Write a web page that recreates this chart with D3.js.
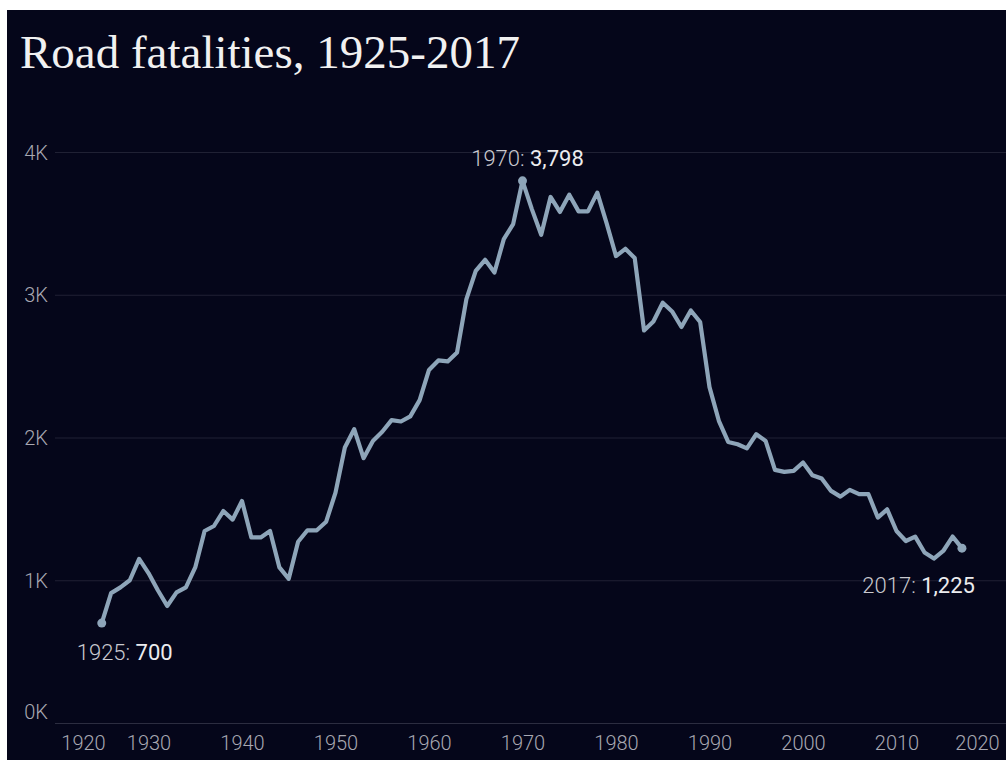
<!DOCTYPE html>
<html><head><meta charset="utf-8">
<script src="https://cdn.jsdelivr.net/npm/d3@7"></script>
<style>
html,body{margin:0;padding:0;background:#ffffff;}
svg{display:block;}
</style></head>
<body>
<svg id="chart" width="1006" height="760"></svg>
<script>
const years = [1925,1926,1927,1928,1929,1930,1931,1932,1933,1934,1935,1936,1937,1938,1939,
1940,1941,1942,1943,1944,1945,1946,1947,1948,1949,1950,1951,1952,1953,1954,1955,1956,1957,1958,1959,
1960,1961,1962,1963,1964,1965,1966,1967,1968,1969,1970,1971,1972,1973,1974,1975,1976,1977,1978,1979,
1980,1981,1982,1983,1984,1985,1986,1987,1988,1989,1990,1991,1992,1993,1994,1995,1996,1997,1998,1999,
2000,2001,2002,2003,2004,2005,2006,2007,2008,2009,2010,2011,2012,2013,2014,2015,2016,2017];
const fatalities = [700,910,950,1000,1150,1050,930,820,915,950,1090,1345,1380,1485,1425,
1555,1300,1300,1345,1090,1010,1270,1350,1350,1410,1614,1930,2058,1855,1976,2040,2122,2112,2148,2262,
2473,2540,2533,2596,2969,3167,3245,3156,3390,3495,3798,3600,3420,3685,3580,3701,3584,3584,3715,3500,
3271,3322,3257,2750,2813,2944,2883,2774,2890,2809,2353,2117,1969,1953,1924,2023,1976,1773,1759,1766,
1825,1736,1713,1626,1586,1633,1603,1603,1439,1497,1345,1275,1306,1194,1152,1205,1306,1225];
const yTickValues = [0,1000,2000,3000,4000];
const yTickLabels = ["0K","1K","2K","3K","4K"];
const xTickValues = [1920,1930,1940,1950,1960,1970,1980,1990,2000,2010,2020];
const annotatedYears = [1925,1970,2017];
const titleText = "Road fatalities, 1925-2017";

const data = years.map((yr,i)=>({year:yr, value:fatalities[i]}));

const svg = d3.select("#chart");
const W = 1006, H = 760;
const plotLeft = 55, plotRight = 990, gridRight = 1006;
const x = d3.scaleLinear().domain([1920,2020]).range([plotLeft, plotRight]);
const y = d3.scaleLinear().domain([0,4000]).range([723,152]);
const sans = "Roboto, 'Open Sans', sans-serif";

svg.append("rect").attr("x",7).attr("y",10).attr("width",W-7).attr("height",H-10).attr("fill","#05061a");

svg.append("text").attr("x",20).attr("y",68)
  .attr("font-family","'Liberation Serif', 'DejaVu Serif', serif")
  .attr("font-size",47).attr("fill","#f1f1f1").text(titleText);

// y axis with gridlines
const fmtY = d => yTickLabels[yTickValues.indexOf(d)];
const yAxis = svg.append("g").attr("transform",`translate(${plotLeft},0)`)
  .call(d3.axisLeft(y).tickValues(yTickValues).tickFormat(fmtY).tickSize(-(gridRight-plotLeft)).tickPadding(7));
yAxis.select(".domain").remove();
yAxis.selectAll(".tick line").attr("stroke", d => d===0 ? "#2c2d40" : "#202134").attr("stroke-width",1);
yAxis.selectAll(".tick text")
  .attr("font-family",sans).attr("font-size",20).attr("font-weight",300)
  .attr("fill","#a8a8b2")
  .attr("dy", d => d===0 ? "-0.25em" : "0.35em");

// x axis
const xAxis = svg.append("g").attr("transform","translate(0,723)")
  .call(d3.axisBottom(x).tickValues(xTickValues).tickFormat(d3.format("d")).tickSize(0).tickPadding(13));
xAxis.select(".domain").remove();
xAxis.selectAll(".tick text")
  .attr("font-family",sans).attr("font-size",20).attr("font-weight",300)
  .attr("fill","#a8a8b2");
// keep edge labels inside the frame
xAxis.selectAll(".tick text").attr("dx", d => d===1920 ? 28 : (d===2020 ? -13 : 0));

// line
const line = d3.line().x(d=>x(d.year)).y(d=>y(d.value));
svg.append("path").datum(data).attr("d",line)
  .attr("fill","none").attr("stroke","#8ea5b9").attr("stroke-width",4.2)
  .attr("stroke-linejoin","round").attr("stroke-linecap","round");

const ann = data.filter(d=>annotatedYears.includes(d.year));
svg.selectAll("circle.pt").data(ann).enter().append("circle").attr("class","pt")
  .attr("cx",d=>x(d.year)).attr("cy",d=>y(d.value)).attr("r",4.5).attr("fill","#8ea5b9");

const fmtV = d3.format(",");
const annPos = {
  1925: {dx:-25, dy:37, anchor:"start"},
  1970: {dx:5, dy:-15, anchor:"middle"},
  2017: {dx:13, dy:45, anchor:"end"}
};
ann.forEach(d=>{
  const p = annPos[d.year];
  const t = svg.append("text").attr("x",x(d.year)+p.dx).attr("y",y(d.value)+p.dy)
    .attr("text-anchor",p.anchor).attr("font-family",sans).attr("font-size",22);
  t.append("tspan").attr("fill","#c9c9cf").attr("font-weight",300).text(d.year+": ");
  t.append("tspan").attr("fill","#ececef").attr("font-weight",400).text(fmtV(d.value));
});
</script>
</body></html>
